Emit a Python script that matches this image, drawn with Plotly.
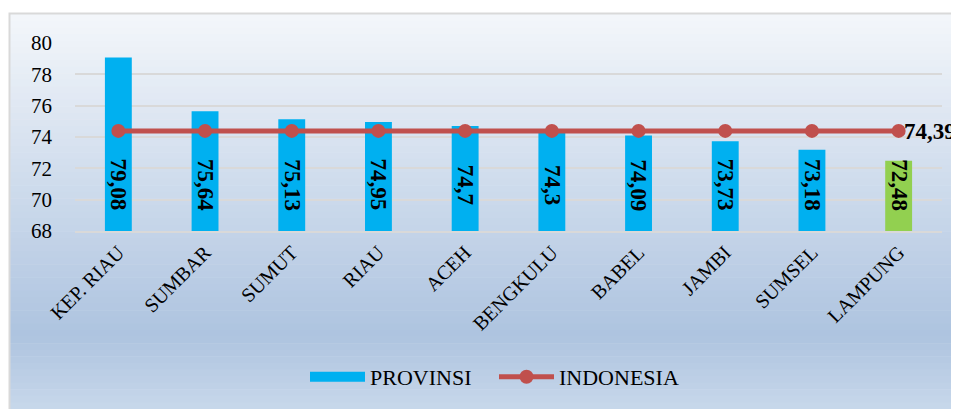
import plotly.graph_objects as go

# data
provinsi = ["KEP. RIAU", "SUMBAR", "SUMUT", "RIAU", "ACEH", "BENGKULU",
            "BABEL", "JAMBI", "SUMSEL", "LAMPUNG"]
nilai = [79.08, 75.64, 75.13, 74.95, 74.7, 74.3, 74.09, 73.73, 73.18, 72.48]
indonesia = 74.39
y_ticks = [68, 70, 72, 74, 76, 78, 80]

W, H = 959, 409
OFF = 8  # page body margin
L, R, T, B = 75 - OFF, W - (942 - OFF), 43 - OFF, H - (231 - OFF)
FONT = "Liberation Serif"


def fmt(v):
    return ("%g" % v).replace(".", ",")


def px_x(px):
    return (px - OFF - L) / (W - L - R)


def px_y(py):
    return (H - B - (py - OFF)) / (H - T - B)


bar_colors = ["#00B0F0"] * (len(provinsi) - 1) + ["#92D050"]

fig = go.Figure()
fig.add_trace(go.Bar(
    x=provinsi, y=[v - 68 for v in nilai], base=68,
    marker=dict(color=bar_colors, line=dict(width=0)),
    width=0.31, showlegend=False, hoverinfo="skip",
))
# legend stand-in for the bars (wide swatch)
fig.add_trace(go.Scatter(
    x=[None], y=[None], mode="lines", name="PROVINSI",
    line=dict(color="#00B0F0", width=13), legend="legend",
))
fig.add_trace(go.Scatter(
    x=provinsi, y=[indonesia] * len(provinsi), mode="lines+markers",
    name="INDONESIA", legend="legend2",
    line=dict(color="#C0504D", width=5),
    marker=dict(color="#C0504D", size=14),
))

# value labels, rotated inside the bars
for p, v in zip(provinsi, nilai):
    fig.add_annotation(x=p, y=70.94, text="<b>%s</b>" % fmt(v),
                       textangle=90, showarrow=False,
                       font=dict(family=FONT, size=23, color="black"))
fig.add_annotation(x=provinsi[-1], y=indonesia, text="<b>%s</b>" % fmt(indonesia),
                   xanchor="left", xshift=3, yshift=-1, showarrow=False,
                   font=dict(family=FONT, size=23, color="black"))

# gradient background + border
shapes = []
top, mid, bot = (244, 247, 251), (174, 196, 224), (200, 216, 235)
y0, y1, y2 = 14, 335, 409
n = 60
for i in range(n):
    a = y0 + (y2 - y0) * i / n
    b = y0 + (y2 - y0) * (i + 1) / n
    c = (a + b) / 2
    if c < y1:
        t = (c - y0) / (y1 - y0)
        col = [int(top[k] + (mid[k] - top[k]) * t) for k in range(3)]
    else:
        t = (c - y1) / (y2 - y1)
        col = [int(mid[k] + (bot[k] - mid[k]) * t) for k in range(3)]
    shapes.append(dict(type="rect", xref="paper", yref="paper", layer="below",
                       x0=px_x(10), x1=px_x(W + 20), y0=px_y(b + 0.5), y1=px_y(a),
                       fillcolor="rgb(%d,%d,%d)" % tuple(col), line=dict(width=0)))
shapes.append(dict(type="rect", xref="paper", yref="paper", layer="below",
                   x0=px_x(9.5), x1=px_x(W + 20), y0=px_y(H + 20), y1=px_y(13.5),
                   fillcolor="rgba(0,0,0,0)", line=dict(color="#D9D9D9", width=2)))

leg = dict(orientation="h", xanchor="left", yanchor="middle", y=px_y(377),
           itemwidth=55, bgcolor="rgba(0,0,0,0)",
           font=dict(family=FONT, size=22))

fig.update_layout(
    width=W, height=H,
    margin=dict(l=L, r=R, t=T, b=B, autoexpand=False),
    paper_bgcolor="white", plot_bgcolor="rgba(0,0,0,0)",
    shapes=shapes,
    font=dict(family=FONT, color="black"),
    legend=dict(leg, x=px_x(305)),
    legend2=dict(leg, x=px_x(494)),
)
fig.update_xaxes(range=[-0.5, len(provinsi) - 0.5],
                 tickangle=-45, tickfont=dict(family=FONT, size=20),
                 showline=True, linecolor="#D9D9D9", linewidth=2,
                 ticks="", showgrid=False, automargin=False)
fig.update_yaxes(range=[68, 80], tickvals=y_ticks, showgrid=True,
                 gridcolor="#D9D9D9", gridwidth=2, zeroline=False,
                 tickfont=dict(family=FONT, size=21), ticks="",
                 ticklabelstandoff=22, automargin=False)

fig.write_html("out.html")
